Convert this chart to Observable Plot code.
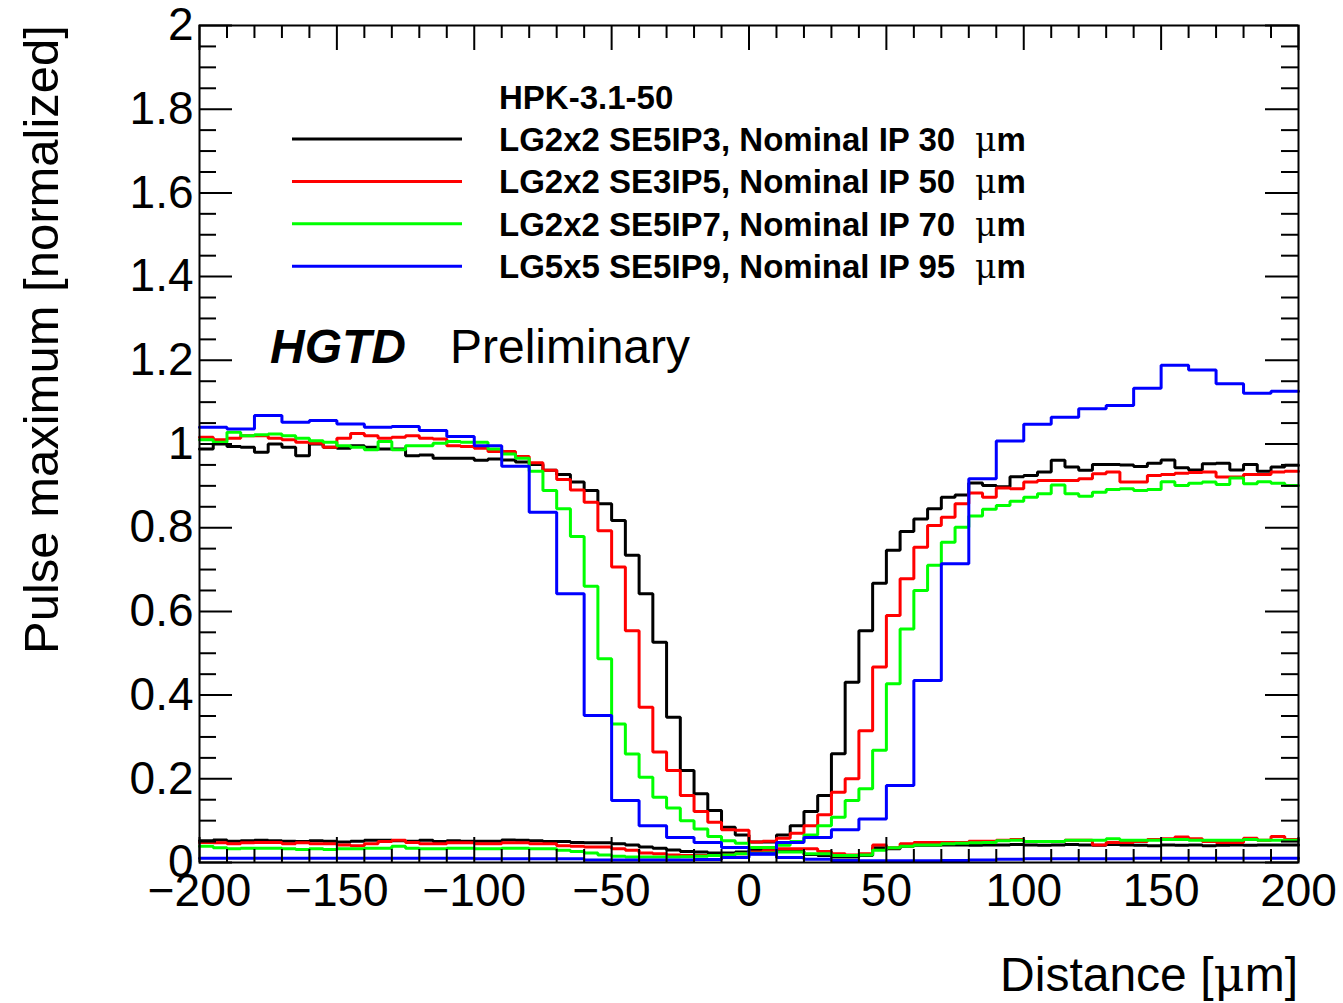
<!DOCTYPE html>
<html>
<head>
<meta charset="utf-8">
<script src="https://cdn.jsdelivr.net/npm/d3@7"></script>
<script src="https://cdn.jsdelivr.net/npm/@observablehq/plot@0.6"></script>
<style>
  body { margin: 0; background: #ffffff; }
  #chart svg { display: block; }
</style>
</head>
<body>
<div id="chart"></div>
<script>
const FONT = "'Liberation Sans', Arial, Helvetica, sans-serif";

// ---------- data ----------
const xDomain = [-200, 200];
const fineBinWidth = 5;     // µm, black / red / green histograms
const coarseBinWidth = 10;  // µm, blue histograms

const seriesColors = ["#000000", "#ff0000", "#00ff00", "#0000ff"];
const legendHeader = "HPK-3.1-50";
const legendLabels = [
  "LG2x2 SE5IP3, Nominal IP 30",
  "LG2x2 SE3IP5, Nominal IP 50",
  "LG2x2 SE5IP7, Nominal IP 70",
  "LG5x5 SE5IP9, Nominal IP 95"
];
const legendUnit = "μm";

const blackUpper = [
  0.988,1.000,0.994,0.992,0.980,1.000,0.992,0.972,1.000,0.992,
  0.990,0.996,0.992,0.988,0.988,0.972,0.974,0.966,0.966,0.966,
  0.961,0.964,0.962,0.957,0.951,0.937,0.927,0.909,0.889,0.857,
  0.817,0.734,0.642,0.526,0.347,0.220,0.164,0.124,0.084,0.066,
  0.049,0.049,0.066,0.088,0.122,0.160,0.260,0.431,0.554,0.667,
  0.746,0.791,0.821,0.845,0.873,0.878,0.907,0.901,0.898,0.922,
  0.925,0.933,0.961,0.945,0.937,0.951,0.951,0.950,0.946,0.954,
  0.962,0.943,0.938,0.953,0.954,0.938,0.951,0.935,0.945,0.949
];
const redUpper = [
  1.016,1.010,1.014,1.020,1.020,1.014,1.010,1.004,1.002,0.992,
  1.014,1.025,1.020,1.014,1.016,1.020,1.014,1.012,0.996,0.994,
  0.990,0.982,0.982,0.970,0.955,0.937,0.915,0.890,0.861,0.793,
  0.706,0.554,0.371,0.264,0.220,0.160,0.122,0.096,0.078,0.077,
  0.049,0.051,0.058,0.070,0.088,0.114,0.168,0.200,0.315,0.467,
  0.590,0.678,0.753,0.805,0.825,0.857,0.883,0.873,0.895,0.893,
  0.909,0.913,0.913,0.913,0.917,0.929,0.933,0.909,0.909,0.925,
  0.927,0.930,0.932,0.933,0.921,0.921,0.927,0.927,0.933,0.935
];
const greenUpper = [
  1.010,1.004,1.028,1.020,1.022,1.024,1.020,1.014,1.008,1.004,
  0.996,0.992,0.986,1.006,0.986,0.996,0.996,1.002,1.006,1.004,
  1.004,0.988,0.976,0.966,0.935,0.889,0.845,0.779,0.660,0.487,
  0.331,0.259,0.204,0.156,0.130,0.100,0.080,0.062,0.052,0.046,
  0.036,0.036,0.041,0.050,0.066,0.088,0.108,0.148,0.176,0.268,
  0.427,0.558,0.650,0.710,0.765,0.801,0.828,0.844,0.853,0.863,
  0.873,0.881,0.902,0.881,0.875,0.885,0.891,0.893,0.889,0.891,
  0.910,0.901,0.906,0.909,0.903,0.919,0.905,0.910,0.906,0.901
];
const blueUpper = [
  1.040,1.036,1.068,1.052,1.056,1.048,1.040,1.042,1.032,1.018,
  0.996,0.947,0.837,0.642,0.351,0.148,0.088,0.060,0.048,0.036,
  0.021,0.048,0.060,0.078,0.104,0.184,0.435,0.714,0.917,1.007,
  1.047,1.064,1.084,1.092,1.133,1.188,1.177,1.144,1.121,1.126
];

const blackLower = [
  0.052,0.054,0.051,0.052,0.053,0.052,0.051,0.050,0.052,0.051,
  0.049,0.051,0.053,0.053,0.052,0.051,0.053,0.050,0.052,0.051,
  0.051,0.051,0.054,0.053,0.052,0.050,0.050,0.048,0.047,0.047,
  0.045,0.042,0.037,0.034,0.030,0.026,0.025,0.023,0.023,0.025,
  0.030,0.032,0.029,0.027,0.019,0.017,0.013,0.013,0.017,0.035,
  0.033,0.039,0.041,0.041,0.042,0.042,0.041,0.042,0.042,0.043,
  0.042,0.041,0.042,0.043,0.042,0.041,0.043,0.042,0.041,0.040,
  0.042,0.041,0.042,0.040,0.041,0.042,0.041,0.042,0.042,0.042
];
const redLower = [
  0.048,0.047,0.045,0.047,0.048,0.048,0.045,0.047,0.045,0.045,
  0.042,0.040,0.045,0.050,0.053,0.048,0.045,0.045,0.047,0.047,
  0.045,0.045,0.047,0.047,0.045,0.045,0.040,0.039,0.037,0.037,
  0.033,0.029,0.023,0.021,0.018,0.017,0.017,0.017,0.018,0.021,
  0.025,0.028,0.033,0.033,0.033,0.026,0.021,0.018,0.021,0.042,
  0.035,0.045,0.048,0.048,0.048,0.048,0.051,0.051,0.053,0.055,
  0.050,0.050,0.050,0.053,0.053,0.042,0.048,0.048,0.050,0.055,
  0.057,0.061,0.057,0.050,0.048,0.048,0.058,0.053,0.062,0.055
];
const greenLower = [
  0.039,0.035,0.033,0.034,0.034,0.034,0.033,0.031,0.033,0.031,
  0.033,0.033,0.034,0.034,0.039,0.034,0.033,0.033,0.034,0.034,
  0.033,0.033,0.034,0.034,0.033,0.033,0.029,0.026,0.023,0.018,
  0.015,0.013,0.013,0.013,0.013,0.014,0.015,0.017,0.018,0.021,
  0.022,0.023,0.025,0.025,0.021,0.021,0.017,0.017,0.018,0.029,
  0.035,0.039,0.042,0.042,0.045,0.046,0.047,0.048,0.052,0.053,
  0.050,0.050,0.050,0.053,0.053,0.053,0.057,0.053,0.053,0.053,
  0.055,0.055,0.053,0.053,0.053,0.053,0.055,0.053,0.053,0.053
];
const blueLower = [
  0.010,0.010,0.010,0.010,0.010,0.010,0.010,0.010,0.010,0.010,
  0.009,0.009,0.009,0.009,0.006,0.006,0.006,0.006,0.007,0.012,
  0.020,0.012,0.008,0.005,0.004,0.004,0.004,0.005,0.006,0.008,
  0.009,0.009,0.009,0.009,0.010,0.010,0.010,0.010,0.010,0.010
];

const xMajorTicks = [-200, -150, -100, -50, 0, 50, 100, 150, 200];
const xMinorTicks = [-190,-180,-170,-160,-140,-130,-120,-110,-90,-80,-70,-60,-40,-30,-20,-10,
                     10,20,30,40,60,70,80,90,110,120,130,140,160,170,180,190];
const yMajorTicks = [0, 0.2, 0.4, 0.6, 0.8, 1, 1.2, 1.4, 1.6, 1.8, 2];
const yMinorTicks = [0.05,0.1,0.15,0.25,0.3,0.35,0.45,0.5,0.55,0.65,0.7,0.75,0.85,0.9,0.95,
                     1.05,1.1,1.15,1.25,1.3,1.35,1.45,1.5,1.55,1.65,1.7,1.75,1.85,1.9,1.95];

// ---------- helpers ----------
function stepRows(values, width, part) {
  const rows = values.map((v, i) => ({x: xDomain[0] + width * i, y: v, part}));
  rows.push({x: xDomain[1], y: values[values.length - 1], part});
  return rows;
}
const series = [
  {color: seriesColors[0], rows: [...stepRows(blackUpper, fineBinWidth, "u"), ...stepRows(blackLower, fineBinWidth, "l")]},
  {color: seriesColors[1], rows: [...stepRows(redUpper, fineBinWidth, "u"), ...stepRows(redLower, fineBinWidth, "l")]},
  {color: seriesColors[2], rows: [...stepRows(greenUpper, fineBinWidth, "u"), ...stepRows(greenLower, fineBinWidth, "l")]},
  {color: seriesColors[3], rows: [...stepRows(blueUpper, coarseBinWidth, "u"), ...stepRows(blueLower, coarseBinWidth, "l")]}
];

const W = 1343, H = 1003;
const mL = 199, mR = 45, mT = 25, mB = 141;
const frameW = W - mL - mR, frameH = H - mT - mB;
const fmtX = d => d < 0 ? "\u2212" + (-d) : String(d);
const SERIF = "'DejaVu Serif', 'Liberation Serif', serif";

// annotations (legend, labels, titles) placed in pixel space
function annotations(index, scales, values, dims) {
  const L = dims.marginLeft, T = dims.marginTop;
  const R = dims.width - dims.marginRight;
  const g = d3.create("svg:g").attr("font-family", FONT).attr("fill", "black")
    .attr("text-anchor", "start");
  g.append("text").attr("x", L + 300).attr("y", T + 84)
    .attr("font-size", 33).attr("font-weight", "bold").text(legendHeader);
  legendLabels.forEach((lab, i) => {
    const yc = T + 114 + 42.4 * i;
    g.append("line").attr("x1", L + 93).attr("x2", L + 263).attr("y1", yc).attr("y2", yc)
      .attr("stroke", seriesColors[i]).attr("stroke-width", 3);
    const t = g.append("text").attr("x", L + 300).attr("y", yc + 12)
      .attr("font-size", 33).attr("font-weight", "bold");
    t.append("tspan").text(lab);
    t.append("tspan").attr("dx", 20).attr("font-weight", "normal")
      .attr("font-family", SERIF).text(legendUnit.slice(0, 1));
    t.append("tspan").text(legendUnit.slice(1));
  });
  const hg = g.append("text").attr("y", T + 338).attr("font-size", 48);
  hg.append("tspan").attr("x", L + 71).attr("font-weight", "bold").attr("font-style", "italic").text("HGTD");
  hg.append("tspan").attr("x", L + 251).text("Preliminary");
  // axis titles
  const xt = g.append("text").attr("x", R).attr("y", dims.height - 12)
    .attr("text-anchor", "end").attr("font-size", 48);
  xt.append("tspan").text("Distance [");
  xt.append("tspan").attr("font-family", SERIF).text("μ");
  xt.append("tspan").text("m]");
  g.append("text").attr("transform", `translate(${L - 141},${T}) rotate(-90)`)
    .attr("text-anchor", "end").attr("font-size", 49).text("Pulse maximum [normalized]");
  return g.node();
}

const tickStyle = {stroke: "black", strokeWidth: 2};

const chart = Plot.plot({
  width: W, height: H,
  marginLeft: mL, marginRight: mR, marginTop: mT, marginBottom: mB,
  x: {domain: xDomain},
  y: {domain: [0, 2]},
  style: {fontFamily: FONT, background: "white", color: "black", overflow: "visible"},
  marks: [
    ...series.map(s => Plot.line(s.rows, {x: "x", y: "y", z: "part", stroke: s.color,
      strokeWidth: 3, curve: "step-after", strokeLinejoin: "miter"})),
    // inward ticks, all four sides
    Plot.tickX(xMajorTicks, {x: d => d, insetTop: frameH - 25, ...tickStyle}),
    Plot.tickX(xMinorTicks, {x: d => d, insetTop: frameH - 13, ...tickStyle}),
    Plot.tickX(xMajorTicks, {x: d => d, insetBottom: frameH - 25, ...tickStyle}),
    Plot.tickX(xMinorTicks, {x: d => d, insetBottom: frameH - 13, ...tickStyle}),
    Plot.tickY(yMajorTicks, {y: d => d, insetRight: frameW - 33, ...tickStyle}),
    Plot.tickY(yMinorTicks, {y: d => d, insetRight: frameW - 17, ...tickStyle}),
    Plot.tickY(yMajorTicks, {y: d => d, insetLeft: frameW - 33, ...tickStyle}),
    Plot.tickY(yMinorTicks, {y: d => d, insetLeft: frameW - 17, ...tickStyle}),
    Plot.frame({stroke: "black", strokeWidth: 2}),
    Plot.axisX({ticks: xMajorTicks, tickSize: 0, tickPadding: 11, fontSize: 46,
      tickFormat: fmtX, label: null}),
    Plot.axisY({ticks: yMajorTicks, tickSize: 0, tickPadding: 6, fontSize: 46,
      tickFormat: d => String(d), label: null}),
    annotations
  ]
});
document.getElementById("chart").appendChild(chart);
</script>
</body>
</html>
